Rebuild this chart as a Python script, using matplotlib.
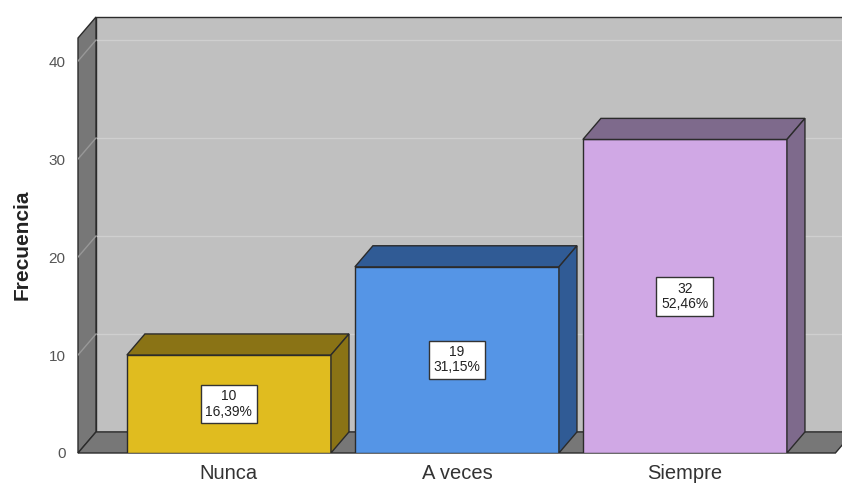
import matplotlib
matplotlib.use("Agg")
import matplotlib.pyplot as plt
from matplotlib.patches import Polygon, Rectangle

# datos de la tabla de frecuencias
categorias = ["Nunca", "A veces", "Siempre"]
frecuencias = [10, 19, 32]
porcentajes = ["16,39%", "31,15%", "52,46%"]

colores_frente = ["#E0BC1F", "#5595E6", "#D0A8E5"]
colores_lado = ["#8A7315", "#305B95", "#7E6A8C"]

plt.rcParams["font.family"] = ["Liberation Sans", "DejaVu Sans"]

fig = plt.figure(figsize=(8.42, 4.84), dpi=100)
ax = fig.add_axes([78 / 842, 31 / 484, 1 - 78 / 842, (453 - 16) / 484])

x0, x1 = -0.662, 2.689
ytop = 44.5      # borde superior de la pared del fondo
ymax = 44.6
ax.set_xlim(x0, x1)
ax.set_ylim(0, ymax)

DX, DY = 0.079, 2.15  # profundidad del efecto 3D
borde = "#2b2b2b"
xr = 2.66

# pared del fondo
ax.add_patch(Rectangle((x0 + DX, DY), 4.0, ytop - DY, facecolor="#C0C0C0",
                       edgecolor=borde, lw=1, zorder=1))
for v in [10, 20, 30, 40]:
    ax.plot([x0 + DX, 4.0], [v + DY, v + DY], color="#CFCFCF", lw=1, zorder=2)

# pared izquierda
ax.add_patch(Polygon([(x0, 0), (x0 + DX, DY), (x0 + DX, ytop), (x0, ytop - DY)],
                     closed=True, facecolor="#777777", edgecolor=borde, lw=1,
                     zorder=3, clip_on=False))
for v in [10, 20, 30, 40]:
    ax.plot([x0, x0 + DX], [v, v + DY], color="#989898", lw=1, zorder=4)

# suelo
ax.add_patch(Polygon([(x0, 0), (xr, 0), (xr + DX, DY), (x0 + DX, DY)],
                     closed=True, facecolor="#777777", edgecolor=borde, lw=1,
                     zorder=3, clip_on=False))

# barras 3D
ancho = 0.895
for i, (f, c1, c2) in enumerate(zip(frecuencias, colores_frente, colores_lado)):
    l, r = i - ancho / 2, i + ancho / 2
    ax.add_patch(Rectangle((l, 0), ancho, f, facecolor=c1, edgecolor=borde,
                           lw=1, zorder=5))
    ax.add_patch(Polygon([(l, f), (l + DX, f + DY), (r + DX, f + DY), (r, f)],
                         closed=True, facecolor=c2, edgecolor=borde, lw=1, zorder=5))
    ax.add_patch(Polygon([(r, 0), (r + DX, DY), (r + DX, f + DY), (r, f)],
                         closed=True, facecolor=c2, edgecolor=borde, lw=1, zorder=5))
    ax.text(i, f / 2, f"{f}\n{porcentajes[i]}", ha="center", va="center",
            fontsize=10, color="#222222", linespacing=1.1, zorder=6,
            bbox=dict(boxstyle="square,pad=0.35", facecolor="white",
                      edgecolor="#333333", lw=1))

ax.set_yticks([0, 10, 20, 30, 40])
ax.set_xticks(range(len(categorias)))
ax.set_xticklabels(categorias, fontsize=14.5, color="#333333")
ax.tick_params(axis="y", length=0, pad=9, labelsize=11, labelcolor="#555555")
ax.tick_params(axis="x", length=0, pad=8)
for s in ax.spines.values():
    s.set_visible(False)

fig.text(22 / 842, 1 - 245 / 484, "Frecuencia", rotation=90, ha="center",
         va="center", fontsize=15, fontweight="bold", color="#222222")

fig.savefig("out.png", dpi=100)
